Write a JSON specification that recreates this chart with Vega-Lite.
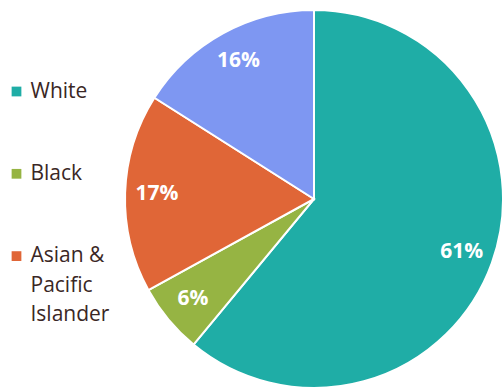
{
  "$schema": "https://vega.github.io/schema/vega-lite/v6.json",
  "width": 378,
  "height": 378,
  "autosize": {"type": "none"},
  "padding": {"left": 125, "top": 10, "right": 1, "bottom": 0},
  "background": "white",
  "config": {
    "style": {"guide-label": {"lineHeight": 29.5}}
  },
  "data": {
    "values": [
      {"group": "White", "share": 0.61, "order": 1},
      {"group": "Black", "share": 0.06, "order": 2},
      {"group": "Asian & Pacific Islander", "share": 0.17, "order": 3},
      {"group": "Other", "share": 0.16, "order": 4}
    ]
  },
  "encoding": {
    "theta": {"field": "share", "type": "quantitative", "stack": true},
    "order": {"field": "order", "type": "quantitative"}
  },
  "layer": [
    {
      "mark": {"type": "arc", "stroke": "white", "strokeWidth": 2},
      "encoding": {
        "color": {
          "field": "group",
          "type": "nominal",
          "scale": {
            "domain": ["White", "Black", "Asian & Pacific Islander", "Other"],
            "range": ["#1FADA6", "#96B443", "#E06637", "#7E97F2"]
          },
          "legend": {
            "values": ["White", "Black", "Asian & Pacific Islander"],
            "orient": "none",
            "legendX": -119,
            "legendY": 71,
            "title": null,
            "symbolType": "square",
            "symbolSize": 95,
            "symbolStrokeWidth": 0,
            "labelFont": "Open Sans",
            "labelFontSize": 21,
            "labelColor": "#3A2725",
            "labelLimit": 200,
            "labelOffset": 3.5,
            "rowPadding": 60.3,
            "labelExpr": "datum.label == 'Asian & Pacific Islander' ? ['Asian &', 'Pacific', 'Islander'] : datum.label",
            "encode": {
              "labels": {
                "enter": {"lineHeight": {"value": 29.5}},
                "update": {"lineHeight": {"value": 29.5}}
              }
            }
          }
        }
      }
    },
    {
      "mark": {
        "type": "text",
        "radius": 157,
        "font": "Open Sans",
        "fontSize": 21,
        "fontWeight": "bold",
        "color": "white"
      },
      "encoding": {
        "text": {"field": "share", "type": "quantitative", "format": ".0%"}
      }
    }
  ]
}
